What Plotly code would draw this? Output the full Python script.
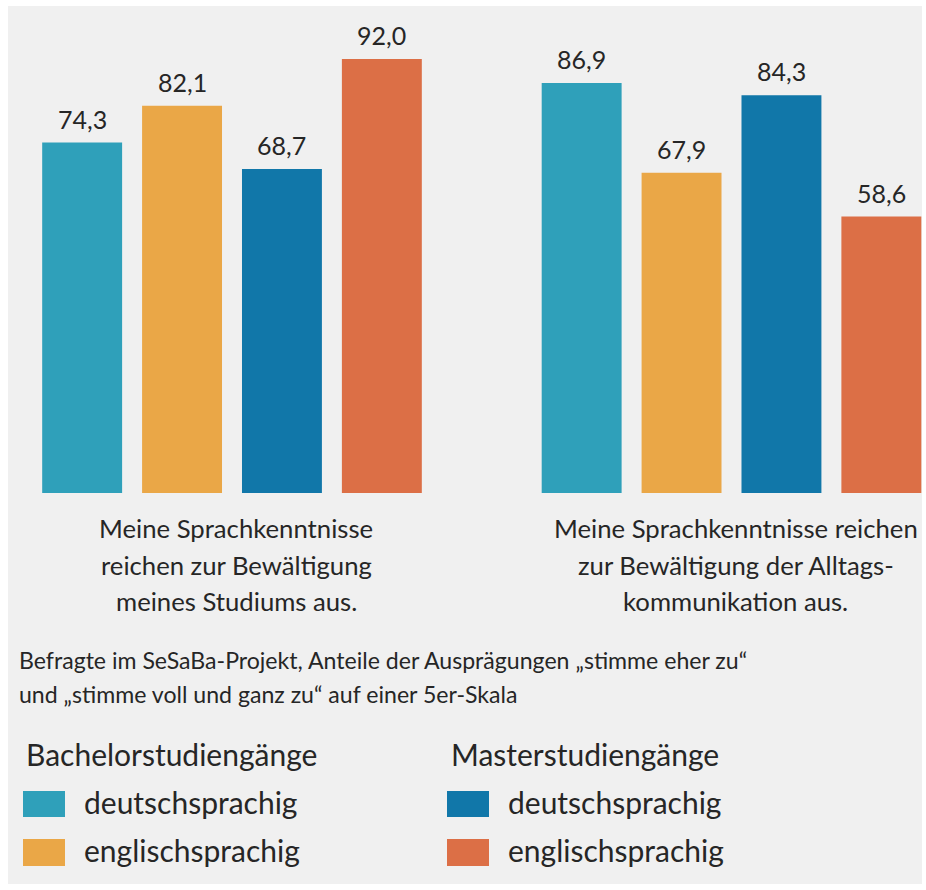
import plotly.graph_objects as go

# Survey statements (x categories)
statements = ["studium", "alltag"]
statement_lines = [
    ["Meine Sprachkenntnisse", "reichen zur Bewältigung", "meines Studiums aus."],
    ["Meine Sprachkenntnisse reichen", "zur Bewältigung der Alltags-", "kommunikation aus."],
]

# Series: degree programme x teaching language (share agreeing, in %)
series_names = ["Bachelor deutschsprachig", "Bachelor englischsprachig",
                "Master deutschsprachig", "Master englischsprachig"]
bachelor_de = [74.3, 86.9]
bachelor_en = [82.1, 67.9]
master_de = [68.7, 84.3]
master_en = [92.0, 58.6]
series_values = [bachelor_de, bachelor_en, master_de, master_en]
series_colors = ["#2fa0ba", "#eaa747", "#1177a9", "#dc6f46"]

legend_groups = ["Bachelorstudiengänge", "Masterstudiengänge"]
legend_items = ["deutschsprachig", "englischsprachig"]

footnote_lines = [
    "Befragte im SeSaBa-Projekt, Anteile der Ausprägungen „stimme eher zu“",
    "und „stimme voll und ganz zu“ auf einer 5er-Skala",
]

# ---- page geometry (pixels) ----
W, H = 926, 890
PL, PT, PR, PB = 8, 6, 922, 884          # grey panel edges
BASE_Y = 493                             # bar baseline
PX_PER_UNIT = 4.717                      # vertical scale
CAT0_X, CAT_STEP = 232.0, 499.5          # category centre / spacing
TEXT = "#262626"
FONT = "Lato"

pw, ph = PR - PL, PB - PT
x0 = -(CAT0_X - PL) / CAT_STEP
x1 = x0 + pw / CAT_STEP
y1 = (BASE_Y - PT) / PX_PER_UNIT
y0 = -(PB - BASE_Y) / PX_PER_UNIT


def px_x(X):
    return (X - PL) / pw


def px_y(Y):
    return (PB - Y) / ph


fig = go.Figure()
for name, vals, col in zip(series_names, series_values, series_colors):
    fig.add_trace(go.Bar(
        x=statements, y=vals, name=name,
        marker=dict(color=col, line=dict(width=0)),
        showlegend=False, hoverinfo="skip",
    ))

annotations = []
n = len(series_values)
slot = (1 - 0.2) / n
for si, vals in enumerate(series_values):
    for ci, v in enumerate(vals):
        annotations.append(dict(
            x=ci + (si - (n - 1) / 2) * slot, y=v, xref="x", yref="y",
            text=f"{v:.1f}".replace(".", ","), showarrow=False,
            xanchor="center", yanchor="bottom", yshift=7,
            font=dict(family=FONT, size=25, color=TEXT),
        ))

# statement labels below the bars
line_centres = [528, 565, 601]
for ci, lines in enumerate(statement_lines):
    for li, line in enumerate(lines):
        annotations.append(dict(
            x=ci, y=px_y(line_centres[li]), xref="x", yref="paper",
            xshift=4, text=line, showarrow=False,
            xanchor="center", yanchor="middle",
            font=dict(family=FONT, size=25.7, color=TEXT),
        ))

# footnote
for li, (line, base) in enumerate(zip(footnote_lines, [671, 705])):
    annotations.append(dict(
        x=px_x(17), y=px_y(base + 5), xref="paper", yref="paper",
        text=line, showarrow=False, xanchor="left", yanchor="bottom",
        font=dict(family=FONT, size=23.1, color=TEXT),
    ))

# legend: group titles, swatches and labels
shapes = []
group_x = [(23, 24, 82), (447, 449, 506)]
item_rows = [(791, 817, 815), (839, 866, 863)]
for gi, gname in enumerate(legend_groups):
    sx, tx, lx = group_x[gi]
    annotations.append(dict(
        x=px_x(tx), y=px_y(767 + 7), xref="paper", yref="paper",
        text=gname, showarrow=False, xanchor="left", yanchor="bottom",
        font=dict(family=FONT, size=30, color=TEXT),
    ))
    for ii, item in enumerate(legend_items):
        top, bot, base = item_rows[ii]
        shapes.append(dict(
            type="rect", xref="paper", yref="paper",
            x0=px_x(sx), x1=px_x(sx + 42), y0=px_y(bot), y1=px_y(top),
            fillcolor=series_colors[gi * 2 + ii], line=dict(width=0),
        ))
        annotations.append(dict(
            x=px_x(lx), y=px_y(base + 7), xref="paper", yref="paper",
            text=item, showarrow=False, xanchor="left", yanchor="bottom",
            font=dict(family=FONT, size=30, color=TEXT),
        ))

fig.update_layout(
    width=W, height=H,
    margin=dict(l=PL, r=W - PR, t=PT, b=H - PB, pad=0),
    paper_bgcolor="white", plot_bgcolor="#f0f0f0",
    barmode="group", bargap=0.2, bargroupgap=0.2,
    xaxis=dict(range=[x0, x1], showticklabels=False, showgrid=False,
               zeroline=False, showline=False, ticks="", fixedrange=True),
    yaxis=dict(range=[y0, y1], showticklabels=False, showgrid=False,
               zeroline=False, showline=False, ticks="", fixedrange=True),
    annotations=annotations, shapes=shapes,
    font=dict(family=FONT, color=TEXT),
)

fig.write_html("out.html", config={"displayModeBar": False})
